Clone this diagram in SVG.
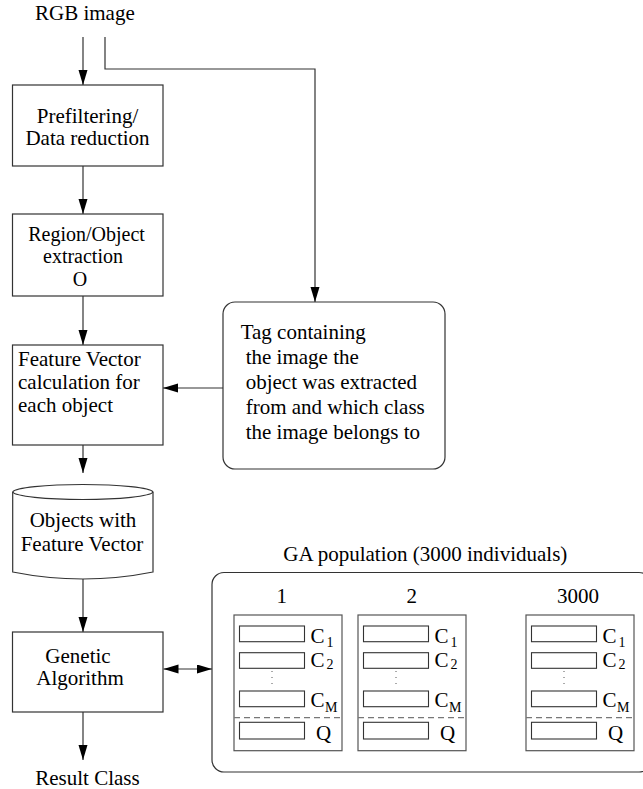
<svg xmlns="http://www.w3.org/2000/svg" xmlns:xlink="http://www.w3.org/1999/xlink" width="643" height="789" viewBox="0 0 643 789" font-family="'Liberation Serif', 'Times New Roman', serif">
<style>
text{font-family:'Liberation Serif','Times New Roman',serif;font-size:21px;fill:#000}
.c{text-anchor:middle}
.sub{font-size:14px}
.sm{font-size:20px}
.box{fill:#fff;stroke:#333;stroke-width:1.2}
.ibox{fill:none;stroke:#555;stroke-width:1.2}
.slot{fill:#fff;stroke:#333;stroke-width:1.1}
.dash{stroke:#777;stroke-width:1.3;stroke-dasharray:6,4;fill:none}
.dot{stroke:#555;stroke-width:1;stroke-dasharray:1,5;fill:none}
.ln{fill:none;stroke:#333;stroke-width:1.2}
</style>
<defs>
<marker id="ah" markerUnits="userSpaceOnUse" markerWidth="16" markerHeight="10" refX="15" refY="4.5" orient="auto-start-reverse">
<path d="M0,0 L15,4.5 L0,9 z" fill="#000"/>
</marker>
<g id="indiv">
<rect class="ibox" x="0" y="0" width="108" height="135.7"/>
<rect class="slot" x="5.5" y="11" width="65" height="15.7"/>
<rect class="slot" x="5.5" y="37.7" width="65" height="15.6"/>
<rect class="slot" x="5.5" y="76" width="65" height="15.7"/>
<rect class="slot" x="5.5" y="107.3" width="65" height="16.7"/>
<line class="dash" x1="0" y1="102.7" x2="108" y2="102.7"/>
<line class="dot" x1="38" y1="56" x2="38" y2="73"/>
<text x="76.5" y="27.5">C</text><text class="sub" x="92.5" y="31.5">1</text>
<text x="76.5" y="51.5">C</text><text class="sub" x="92.5" y="54">2</text>
<text x="76.5" y="92">C</text><text class="sub" x="91" y="97">M</text>
<text class="c" x="89.5" y="125">Q</text>
</g>
</defs>
<rect width="643" height="789" fill="#fff"/>

<g id="connectors">
<line class="ln" x1="83" y1="37" x2="83" y2="85" marker-end="url(#ah)"/>
<polyline class="ln" points="105,37 105,69 315,69 315,302" marker-end="url(#ah)"/>
<line class="ln" x1="83" y1="166" x2="83" y2="214" marker-end="url(#ah)"/>
<line class="ln" x1="83" y1="296" x2="83" y2="345" marker-end="url(#ah)"/>
<line class="ln" x1="223" y1="388" x2="163" y2="388" marker-end="url(#ah)"/>
<line class="ln" x1="83" y1="445" x2="83" y2="473" marker-end="url(#ah)"/>
<line class="ln" x1="83" y1="578" x2="83" y2="632" marker-end="url(#ah)"/>
<line class="ln" x1="163.5" y1="669" x2="212" y2="669" marker-start="url(#ah)" marker-end="url(#ah)"/>
<line class="ln" x1="83" y1="712" x2="83" y2="760" marker-end="url(#ah)"/>
<line class="dot" x1="469" y1="685" x2="522" y2="685" stroke-dasharray="1,5.5"/>
</g>

<g id="rgb"><text x="35" y="20">RGB image</text></g>

<g id="prefilter">
<rect class="box" x="12.5" y="85" width="150.5" height="81"/>
<text class="c" x="87.5" y="123">Prefiltering/</text>
<text class="c" x="87.5" y="145">Data reduction</text>
</g>

<g id="region">
<rect class="box" x="12.5" y="214" width="150.5" height="82"/>
<text class="c sm" x="86.5" y="240.5">Region/Object</text>
<text class="c sm" x="83" y="263">extraction</text>
<text class="c sm" x="80" y="286">O</text>
</g>

<g id="feature">
<rect class="box" x="12.5" y="345" width="150.5" height="100"/>
<text x="18" y="366">Feature Vector</text>
<text x="18" y="389">calculation for</text>
<text x="18" y="412">each object</text>
</g>

<g id="tag">
<rect class="box" x="223" y="302" width="222" height="167" rx="12" ry="12"/>
<text x="240.7" y="339">Tag containing</text>
<text x="245.7" y="364">the image the</text>
<text x="245.7" y="389">object was extracted</text>
<text x="245.7" y="414">from and which class</text>
<text x="245.7" y="439">the image belongs to</text>
</g>

<g id="objects">
<path class="box" d="M12.7,492 A70.3,8 0 0 1 153,492 L153,572 Q83,586 12.7,572 Z"/>
<path class="ln" d="M12.7,492 A70.3,8 0 0 0 153,492"/>
<text class="c" x="83" y="527">Objects with</text>
<text class="c" x="82" y="550.5">Feature Vector</text>
</g>

<g id="ga">
<rect class="box" x="12.5" y="632" width="150.5" height="80"/>
<text class="c" x="78" y="663">Genetic</text>
<text class="c" x="80" y="685">Algorithm</text>
</g>

<g id="result"><text class="c" x="87.5" y="785">Result Class</text></g>

<g id="population">
<text x="283.3" y="561">GA population (3000 individuals)</text>
<rect class="box" x="212" y="572.5" width="439" height="199.5" rx="12" ry="12"/>
<text class="c" x="281.7" y="603">1</text>
<text class="c" x="411.7" y="603">2</text>
<text class="c" x="578" y="603">3000</text>
</g>
<g id="ind1"><use xlink:href="#indiv" x="234" y="615"/></g>
<g id="ind2"><use xlink:href="#indiv" x="358" y="615"/></g>
<g id="ind3000"><use xlink:href="#indiv" x="526" y="615"/></g>
</svg>
